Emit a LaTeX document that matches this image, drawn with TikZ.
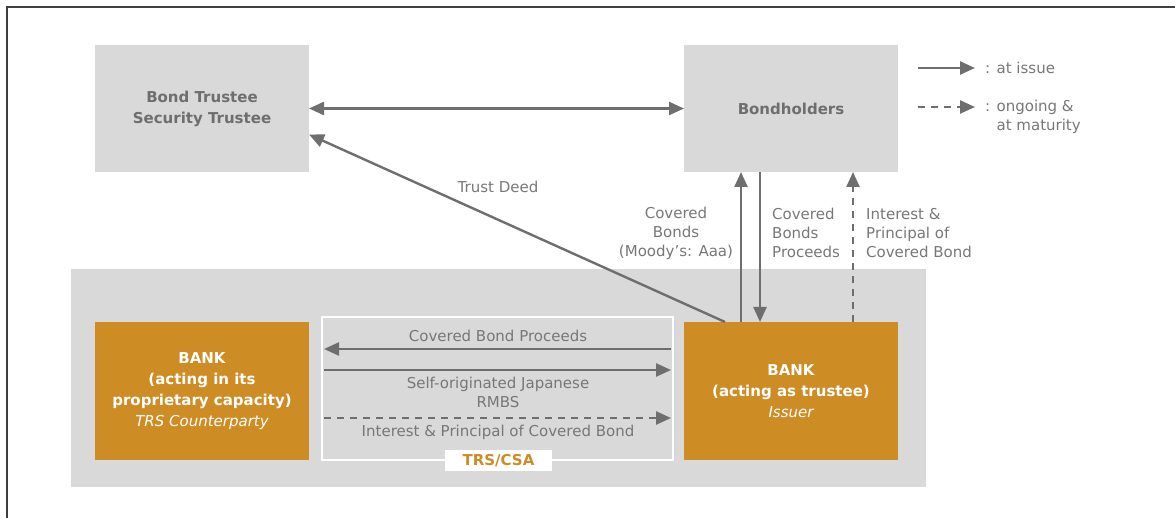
\documentclass[tikz,border=0pt]{standalone}
\usepackage{fontspec}
\setmainfont{DejaVu Sans}
\usetikzlibrary{arrows.meta,positioning}
\definecolor{panel}{HTML}{D9D9D9}
\definecolor{gold}{HTML}{CE8C25}
\definecolor{ink}{HTML}{6E6E6E}
\definecolor{muted}{HTML}{777777}
\definecolor{rim}{HTML}{3F3F3F}
\tikzset{party/.style={fill=panel,minimum width=214pt,minimum height=127pt,inner sep=0pt,outer sep=0pt,align=center,font=\bfseries\fontsize{15}{21}\selectfont,text=ink},
  bank/.style={fill=gold,minimum width=214pt,minimum height=138pt,inner sep=0pt,outer sep=0pt,align=center,font=\bfseries\fontsize{15}{21}\selectfont,text=white},
  flow/.style={draw=ink,line width=2.4pt,-{Triangle[length=15pt,width=13pt]}},
  later/.style={flow,dash pattern=on 7pt off 6pt},
  lbl/.style={font=\fontsize{15}{19}\selectfont,text=muted,inner sep=0pt}}

\begin{document}
\begin{tikzpicture}[x=1pt,y=-1pt]
\useasboundingbox (0,0) rectangle (1175,518);
\draw[rim,line width=1.6pt] (7,518)--(7,7)--(1175,7);
% grey deal panel and TRS frame
\node[fill=panel,minimum width=855pt,minimum height=218pt,inner sep=0pt] (deal) at (498.5,378) {};
\node[draw=white,line width=2pt,minimum width=351pt,minimum height=143pt,inner sep=0pt,outer sep=0pt] (trs) at (497.5,388.5) {};
\node[fill=white,text=gold,font=\bfseries\fontsize{15}{18}\selectfont,minimum width=107pt,minimum height=21pt,inner sep=0pt] (tag) at (498.5,460.5) {TRS/CSA};
% parties
\node[party] (tr) at (202,108.5) {Bond Trustee\\Security Trustee};
\node[party] (bh) at (791,108.5) {Bondholders};
\node[bank] (cp) at (202,391) {BANK\\(acting in its\\proprietary capacity)\\{\normalfont\itshape TRS Counterparty}};
\node[bank] (is) at (791,391) {BANK\\(acting as trustee)\\{\normalfont\itshape Issuer}};
% flows
\draw[flow,{Triangle[length=15pt,width=13pt]}-{Triangle[length=15pt,width=13pt]}] (tr.east)--(bh.west);
\draw[flow] ([xshift=41pt]is.north west)--([yshift=-26pt]tr.east);
\draw[flow] ([xshift=57pt]is.north west)--([xshift=57pt]bh.south west);
\draw[flow] ([xshift=76pt]bh.south west)--([xshift=76pt]is.north west);
\draw[later] ([xshift=169pt]is.north west)--([xshift=169pt]bh.south west);
\draw[flow] ([xshift=-2pt,yshift=39.5pt]trs.east)--([xshift=2pt,yshift=39.5pt]trs.west);
\draw[flow] ([xshift=2pt,yshift=18.5pt]trs.west)--([xshift=-2pt,yshift=18.5pt]trs.east);
\draw[later] ([xshift=2pt,yshift=-29.5pt]trs.west)--([xshift=-2pt,yshift=-29.5pt]trs.east);
% labels
\node[lbl] (ltd) at (498,187) {Trust Deed};
\node[lbl,align=center] (lcb) at (676,233) {Covered\\Bonds\\(Moody’s: Aaa)};
\node[lbl,align=left,anchor=west] (lcp) at (772,233) {Covered\\Bonds\\Proceeds};
\node[lbl,align=left,anchor=west] (lip) at (866,233) {Interest \&\\Principal of\\Covered Bond};
\node[lbl] (lbp) at (498,336) {Covered Bond Proceeds};
\node[lbl,align=center] (lrm) at (498,392.5) {Self-originated Japanese\\RMBS};
\node[lbl] (lic) at (498,432) {Interest \& Principal of Covered Bond};
% legend
\coordinate (k1a) at (918,68);
\coordinate (k1b) at (975,68);
\coordinate (k2a) at (918,107);
\coordinate (k2b) at (975,107);
\draw[flow] (k1a)--(k1b);
\draw[later] (k2a)--(k2b);
\node[lbl,anchor=west] (k1) at (985,68) {: at issue};
\node[lbl,anchor=west,align=left] (k2) at (985,117) {: ongoing \&\\\phantom{: }at maturity};
\end{tikzpicture}
\end{document}
